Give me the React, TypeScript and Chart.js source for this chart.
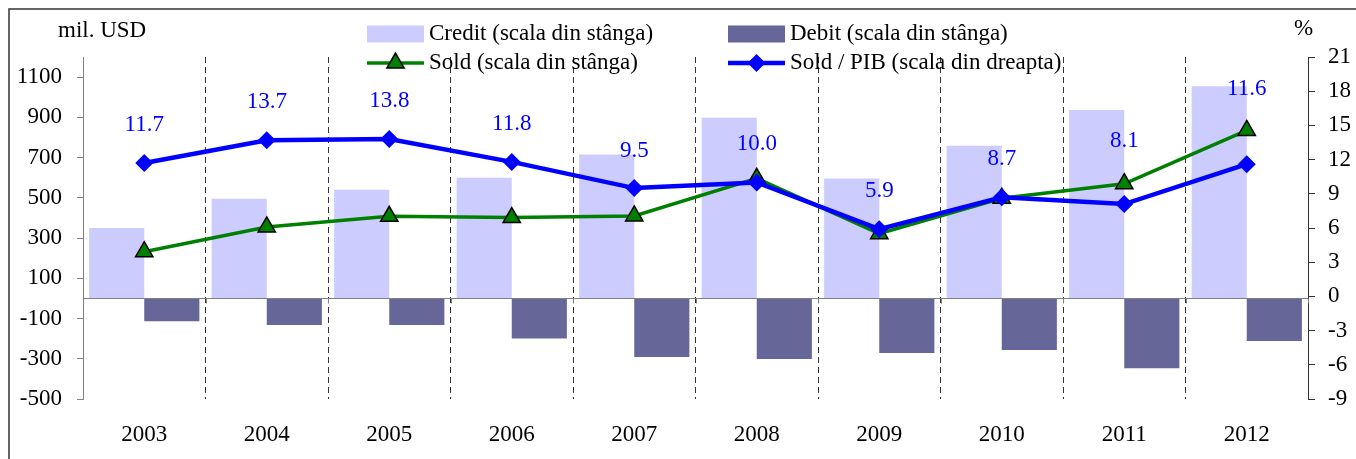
import React, { useEffect, useRef } from 'react';
import { Chart, registerables } from 'chart.js';

Chart.register(...registerables);

const YEARS = ['2003', '2004', '2005', '2006', '2007', '2008', '2009', '2010', '2011', '2012'];
const CREDIT = [350, 495, 540, 600, 715, 898, 596, 759, 936, 1055];
const DEBIT = [-113, -132, -132, -199, -291, -301, -271, -256, -347, -212];
const SOLD = [232, 355, 408, 402, 410, 597, 322, 498, 570, 835];
const SOLD_PIB = [11.7, 13.7, 13.8, 11.8, 9.5, 10.0, 5.9, 8.7, 8.1, 11.6];

const LEFT_TICKS = [-500, -300, -100, 100, 300, 500, 700, 900, 1100];
const LEFT_MIN = -500;
const LEFT_MAX = 1200;
const RIGHT_MIN = -9;
const RIGHT_MAX = 21;
const RIGHT_STEP = 3;

const LEGEND_LABELS = [
  'Credit (scala din stânga)',
  'Debit (scala din stânga)',
  'Sold (scala din stânga)',
  'Sold / PIB (scala din dreapta)',
];
const LEFT_TITLE = 'mil. USD';
const RIGHT_TITLE = '%';

// how far each value label sits above its point (style only)
const LABEL_RAISE = [38, 38, 38, 38, 37, 38, 38, 38, 63, 75];

const FONT = '"Liberation Serif", "Times New Roman", serif';
const FS = 23;

const W = 1356;
const H = 459;

function drawTriangle(ctx: CanvasRenderingContext2D, x: number, y: number, r: number, fill: string) {
  ctx.beginPath();
  ctx.moveTo(x, y - r);
  ctx.lineTo(x + r * Math.cos(Math.PI / 6), y + r * 0.5);
  ctx.lineTo(x - r * Math.cos(Math.PI / 6), y + r * 0.5);
  ctx.closePath();
  ctx.fillStyle = fill;
  ctx.fill();
  ctx.lineWidth = 1.5;
  ctx.strokeStyle = '#000';
  ctx.stroke();
}

function drawDiamond(ctx: CanvasRenderingContext2D, x: number, y: number, r: number, fill: string) {
  ctx.beginPath();
  ctx.moveTo(x, y - r);
  ctx.lineTo(x + r, y);
  ctx.lineTo(x, y + r);
  ctx.lineTo(x - r, y);
  ctx.closePath();
  ctx.fillStyle = fill;
  ctx.fill();
}

const decorPlugin = {
  id: 'decor',
  beforeDraw(chart: any) {
    const ctx = chart.ctx as CanvasRenderingContext2D;
    ctx.save();
    ctx.fillStyle = '#fff';
    ctx.fillRect(0, 0, chart.width, chart.height);
    ctx.restore();
  },
  afterDatasetsDraw(chart: any) {
    const ctx = chart.ctx as CanvasRenderingContext2D;
    const ya = chart.scales.y;
    const area = chart.chartArea;
    ctx.save();
    // zero line
    const y0 = Math.round(ya.getPixelForValue(0)) + 0.5;
    ctx.strokeStyle = '#808080';
    ctx.lineWidth = 1;
    ctx.beginPath();
    ctx.moveTo(area.left, y0);
    ctx.lineTo(area.right, y0);
    ctx.stroke();
    // small ticks on zero line at category boundaries
    const step = (area.right - area.left) / YEARS.length;
    ctx.beginPath();
    for (let i = 0; i <= YEARS.length; i++) {
      const x = Math.round(area.left + i * step) + 0.5;
      ctx.moveTo(x, y0);
      ctx.lineTo(x, y0 + 5);
    }
    ctx.stroke();
    ctx.restore();
  },
  afterDraw(chart: any) {
    const ctx = chart.ctx as CanvasRenderingContext2D;
    ctx.save();
    // frame
    ctx.strokeStyle = '#333';
    ctx.lineWidth = 1.5;
    ctx.beginPath();
    ctx.moveTo(9, H + 5);
    ctx.lineTo(9, 9);
    ctx.lineTo(W + 5, 9);
    ctx.stroke();

    // axis titles
    ctx.fillStyle = '#000';
    ctx.font = `${FS}px ${FONT}`;
    ctx.textAlign = 'left';
    ctx.textBaseline = 'alphabetic';
    ctx.fillText(LEFT_TITLE, 58, 37);
    ctx.fillText(RIGHT_TITLE, 1294, 35);

    // value labels
    const meta = chart.getDatasetMeta(3);
    ctx.fillStyle = '#0000FF';
    ctx.textAlign = 'center';
    ctx.textBaseline = 'middle';
    meta.data.forEach((pt: any, i: number) => {
      ctx.fillText(SOLD_PIB[i].toFixed(1), pt.x, pt.y - LABEL_RAISE[i]);
    });

    // legend
    const ds = chart.data.datasets;
    const cols = [367, 728];
    const rows = [34, 63];
    const sw = 57;
    const items = [
      { c: 0, r: 0, d: 0 },
      { c: 1, r: 0, d: 1 },
      { c: 0, r: 1, d: 2 },
      { c: 1, r: 1, d: 3 },
    ];
    items.forEach((it) => {
      const x = cols[it.c];
      const y = rows[it.r];
      const d = ds[it.d];
      if (d.type === 'bar') {
        ctx.fillStyle = d.backgroundColor;
        ctx.fillRect(x, y - 8.5, sw, 17);
      } else {
        ctx.strokeStyle = d.borderColor;
        ctx.lineWidth = d.borderWidth;
        ctx.beginPath();
        ctx.moveTo(x, y);
        ctx.lineTo(x + sw, y);
        ctx.stroke();
        if (d.pointStyle === 'triangle') drawTriangle(ctx, x + sw / 2, y, 10, d.pointBackgroundColor);
        else drawDiamond(ctx, x + sw / 2, y, 9, d.pointBackgroundColor);
      }
      ctx.fillStyle = '#000';
      ctx.textAlign = 'left';
      ctx.textBaseline = 'middle';
      ctx.font = `${FS}px ${FONT}`;
      ctx.fillText(LEGEND_LABELS[it.d], x + sw + 5, y);
    });
    ctx.restore();
  },
};

export default function App() {
  const ref = useRef<HTMLCanvasElement | null>(null);

  useEffect(() => {
    if (!ref.current) return;
    const chart = new Chart(ref.current, {
      type: 'bar',
      data: {
        labels: YEARS,
        datasets: [
          {
            type: 'bar',
            label: LEGEND_LABELS[0],
            data: CREDIT,
            backgroundColor: '#CCCCFF',
            borderWidth: 0,
            yAxisID: 'y',
            order: 2,
            categoryPercentage: 0.9,
            barPercentage: 1.0,
          },
          {
            type: 'bar',
            label: LEGEND_LABELS[1],
            data: DEBIT,
            backgroundColor: '#666699',
            borderWidth: 0,
            yAxisID: 'y',
            order: 3,
            categoryPercentage: 0.9,
            barPercentage: 1.0,
          },
          {
            type: 'line',
            label: LEGEND_LABELS[2],
            data: SOLD,
            borderColor: '#008000',
            borderWidth: 3.5,
            pointStyle: 'triangle',
            pointRadius: 10,
            pointBackgroundColor: '#008000',
            pointBorderColor: '#000',
            pointBorderWidth: 1.5,
            tension: 0,
            yAxisID: 'y',
            order: 1,
          },
          {
            type: 'line',
            label: LEGEND_LABELS[3],
            data: SOLD_PIB,
            borderColor: '#0000FF',
            borderWidth: 4.5,
            pointStyle: 'rectRot',
            pointRadius: 9,
            pointBackgroundColor: '#0000FF',
            pointBorderColor: '#0000FF',
            pointBorderWidth: 0,
            tension: 0,
            yAxisID: 'y1',
            order: 0,
          },
        ] as any,
      },
      options: {
        responsive: false,
        maintainAspectRatio: false,
        animation: false,
        devicePixelRatio: 1,
        layout: { padding: { top: 57, left: 0, right: 0, bottom: 0 } },
        plugins: {
          legend: { display: false },
          tooltip: { enabled: false },
          title: { display: false },
        },
        scales: {
          x: {
            type: 'category',
            offset: true,
            border: { display: false, dash: [6, 4] },
            grid: {
              offset: true,
              drawTicks: false,
              lineWidth: 1,
              color: (c: any) =>
                c.index === 0 || c.index === YEARS.length ? 'rgba(0,0,0,0)' : '#333',
            },
            ticks: {
              color: '#000',
              font: { family: FONT, size: FS },
              padding: 22,
              maxRotation: 0,
              autoSkip: false,
            },
            afterFit: (s: any) => {
              s.height = 60;
            },
          },
          y: {
            type: 'linear',
            position: 'left',
            min: LEFT_MIN,
            max: LEFT_MAX,
            afterBuildTicks: (s: any) => {
              s.ticks = LEFT_TICKS.map((v) => ({ value: v }));
            },
            afterFit: (s: any) => {
              s.width = 83;
            },
            grid: {
              drawOnChartArea: false,
              drawTicks: true,
              tickLength: 6,
              tickColor: '#808080',
              tickWidth: 1,
            },
            border: { display: true, color: '#808080', width: 1 },
            ticks: {
              color: '#000',
              font: { family: FONT, size: FS },
              padding: 15,
              callback: (v: any) => String(v),
            },
          },
          y1: {
            type: 'linear',
            position: 'right',
            min: RIGHT_MIN,
            max: RIGHT_MAX,
            afterFit: (s: any) => {
              s.width = 48;
            },
            grid: {
              drawOnChartArea: false,
              drawTicks: true,
              tickLength: 7,
              tickColor: '#333',
              tickWidth: 1,
            },
            border: { display: true, color: '#333', width: 1 },
            ticks: {
              stepSize: RIGHT_STEP,
              color: '#000',
              font: { family: FONT, size: FS },
              padding: 13,
              callback: (v: any) => String(v),
            },
          },
        },
      } as any,
      plugins: [decorPlugin],
    });
    return () => chart.destroy();
  }, []);

  return (
    <div style={{ position: 'absolute', left: 0, top: 0, width: W, height: H, background: '#fff' }}>
      <canvas ref={ref} width={W} height={H} style={{ display: 'block', width: W, height: H }} />
    </div>
  );
}
